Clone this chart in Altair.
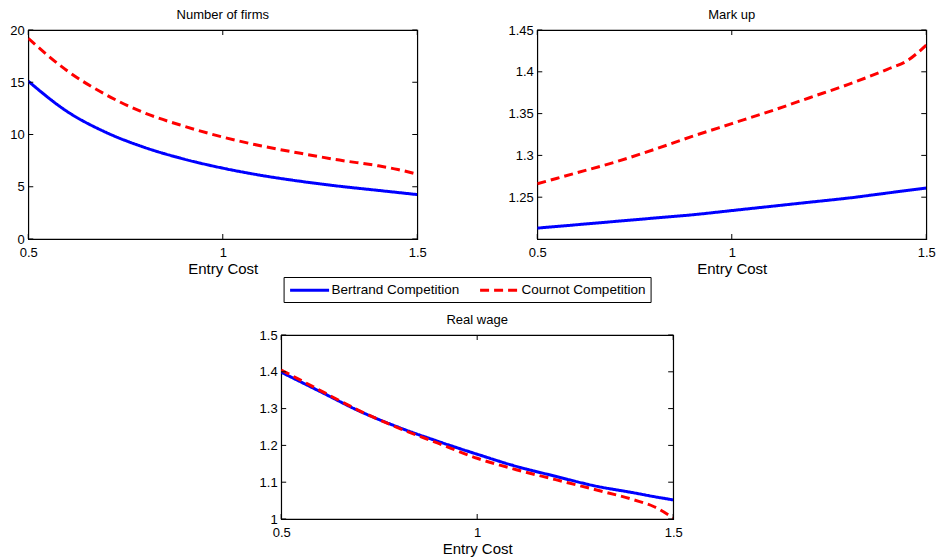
import altair as alt
import pandas as pd

entry_cost = [0.5, 0.6, 0.7, 0.8, 0.9, 1.0, 1.1, 1.2, 1.3, 1.4, 1.45, 1.5]

firms_bertrand = [15.1, 12.2, 10.2, 8.75, 7.65, 6.78, 6.08, 5.52, 5.05, 4.65, 4.45, 4.25]
firms_cournot = [19.2, 16.1, 13.8, 12.05, 10.8, 9.75, 8.9, 8.2, 7.55, 7.0, 6.65, 6.2]

markup_bertrand = [1.213, 1.217, 1.221, 1.225, 1.229, 1.234, 1.239, 1.244, 1.249, 1.255, 1.258, 1.261]
markup_cournot = [1.266, 1.279, 1.292, 1.307, 1.323, 1.338, 1.353, 1.369, 1.385, 1.403, 1.413, 1.432]

wage_bertrand = [1.399, 1.346, 1.293, 1.249, 1.211, 1.176, 1.143, 1.116, 1.090, 1.071, 1.061, 1.052]
wage_cournot = [1.405, 1.349, 1.294, 1.247, 1.206, 1.165, 1.134, 1.107, 1.080, 1.052, 1.034, 1.003]

series_names = ["Bertrand Competition", "Cournot Competition"]
series_colors = ["#0000FF", "#FF0000"]
series_dash = [[1, 0], [9, 5]]

x_ticks = [0.5, 1.0, 1.5]
firms_ticks = [0, 5, 10, 15, 20]
markup_ticks = [1.25, 1.3, 1.35, 1.4, 1.45]
wage_ticks = [1.0, 1.1, 1.2, 1.3, 1.4, 1.5]

W, H = 389, 209
WB, HB = 392, 184

color_scale = alt.Scale(domain=series_names, range=series_colors)
dash_scale = alt.Scale(domain=series_names, range=series_dash)


def make_df(b, c):
    rows = []
    for x, v in zip(entry_cost, b):
        rows.append({"x": x, "v": v, "s": series_names[0]})
    for x, v in zip(entry_cost, c):
        rows.append({"x": x, "v": v, "s": series_names[1]})
    return pd.DataFrame(rows)


def panel(title, b, c, ydom, yticks, w, h):
    xs = alt.Scale(domain=[0.5, 1.5], nice=False, zero=False)
    ys = alt.Scale(domain=ydom, nice=False, zero=False)
    xaxis = alt.Axis(values=x_ticks, format="~g", labelOverlap=False)
    yaxis = alt.Axis(values=yticks, format="~g", labelOverlap=False)
    xtitle = "Entry  Cost"
    df = make_df(b, c)
    lines = alt.Chart(df).mark_line(strokeWidth=3, interpolate="monotone", clip=True).encode(
        x=alt.X("x:Q", scale=xs, title=xtitle, axis=xaxis),
        y=alt.Y("v:Q", scale=ys, title=None, axis=yaxis),
        color=alt.Color("s:N", scale=color_scale, legend=None),
        strokeDash=alt.StrokeDash("s:N", scale=dash_scale, legend=None),
    )
    xt = pd.DataFrame({"t": x_ticks})
    yt = pd.DataFrame({"t": [t for t in yticks]})
    top = alt.Chart(xt).mark_rule(color="black", strokeWidth=1).encode(
        x=alt.X("t:Q", scale=xs, title=xtitle, axis=xaxis), y=alt.value(0), y2=alt.value(5))
    bot = alt.Chart(xt).mark_rule(color="black", strokeWidth=1).encode(
        x=alt.X("t:Q", scale=xs, title=xtitle, axis=xaxis), y=alt.value(h - 5), y2=alt.value(h))
    left = alt.Chart(yt).mark_rule(color="black", strokeWidth=1).encode(
        y=alt.Y("t:Q", scale=ys, title=None, axis=yaxis), x=alt.value(0), x2=alt.value(5))
    right = alt.Chart(yt).mark_rule(color="black", strokeWidth=1).encode(
        y=alt.Y("t:Q", scale=ys, title=None, axis=yaxis), x=alt.value(w - 5), x2=alt.value(w))
    return alt.layer(lines, top, bot, left, right).properties(
        width=w, height=h,
        title=alt.TitleParams(title, fontSize=13, fontWeight="normal", font="Liberation Sans",
                              color="black", offset=2),
    )


A = panel("Number of firms", firms_bertrand, firms_cournot, [0, 20], firms_ticks, W, H)
B = panel("Mark up", markup_bertrand, markup_cournot, [1.2, 1.45], markup_ticks, W, H)
C = panel("Real wage", wage_bertrand, wage_cournot, [1.0, 1.5], wage_ticks, WB, HB)

leg_props = dict(
    orient="none", legendX=0, legendY=0, direction="horizontal",
    title=None, symbolType="M-1,0H5", symbolSize=169, symbolStrokeWidth=3,
    labelFontSize=13.5, labelFont="Liberation Sans", labelColor="black",
    strokeColor="black", fillColor="white", padding=5, columnPadding=14,
    labelOffset=27, labelLimit=300,
)
leg_df = pd.DataFrame({"s": series_names})
legend_chart = alt.Chart(leg_df).mark_line(strokeWidth=3).encode(
    x=alt.value(0), y=alt.value(0),
    color=alt.Color("s:N", scale=color_scale, legend=alt.Legend(**leg_props)),
    strokeDash=alt.StrokeDash("s:N", scale=dash_scale, legend=alt.Legend(**leg_props)),
).properties(width=397, height=1, view=alt.ViewConfig(strokeWidth=0, strokeOpacity=0))

top_row = alt.hconcat(A, B, spacing=80).resolve_scale(
    color="independent", strokeDash="independent"
).resolve_legend(color="independent", strokeDash="independent")

upper = alt.vconcat(top_row, legend_chart, spacing=-10, center=True).resolve_scale(
    color="independent", strokeDash="independent"
).resolve_legend(color="independent", strokeDash="independent")

chart = alt.vconcat(upper, C, spacing=10, center=True).resolve_scale(
    color="independent", strokeDash="independent"
).resolve_legend(color="independent", strokeDash="independent").properties(
    background="white",
    padding={"left": 1, "top": 0, "right": 0, "bottom": 0},
).configure_view(
    stroke="black", strokeWidth=1.2
).configure_axis(
    domain=False, ticks=False, grid=False,
    labelFont="Liberation Sans", labelFontSize=13, labelColor="black",
    titleFont="Liberation Sans", titleFontSize=15, titleFontWeight="normal", titleColor="black",
).configure_axisX(labelPadding=7, titlePadding=2, labelFlush=False).configure_axisY(
    labelPadding=4
)

chart.save("out.html", embed_options={"renderer": "svg", "actions": False})
